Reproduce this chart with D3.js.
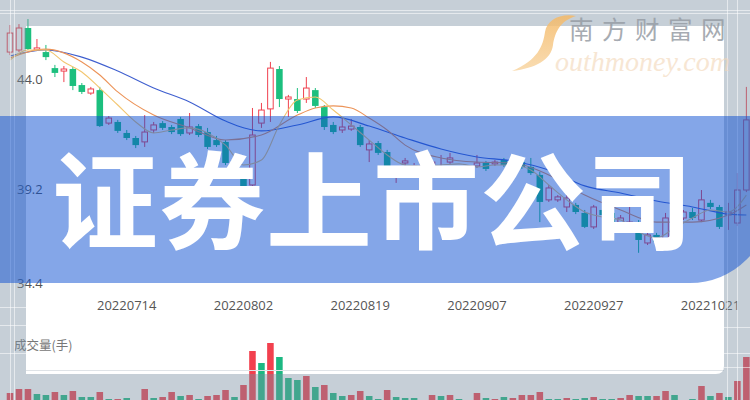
<!DOCTYPE html>
<html><head><meta charset="utf-8">
<script src="https://cdn.jsdelivr.net/npm/d3@7"></script>
<style>body{margin:0;background:#fff}svg{display:block}</style>
</head><body>
<svg id="c" width="750" height="400"></svg>
<script>
const dates = ["20220627","20220628","20220629","20220630","20220701","20220704","20220705","20220706","20220707","20220708","20220711","20220712","20220713","20220714","20220715","20220718","20220719","20220720","20220721","20220722","20220725","20220726","20220727","20220728","20220729","20220801","20220802","20220803","20220804","20220805","20220808","20220809","20220810","20220811","20220812","20220815","20220816","20220817","20220818","20220819","20220822","20220823","20220824","20220825","20220826","20220829","20220830","20220831","20220901","20220902","20220905","20220906","20220907","20220908","20220909","20220913","20220914","20220915","20220916","20220919","20220920","20220921","20220922","20220923","20220926","20220927","20220928","20220929","20220930","20221010","20221011","20221012","20221013","20221014","20221017","20221018","20221019","20221020","20221021","20221024","20221025","20221026","20221027"];
const open  = [44.87,44.96,45.92,44.96,44.87,44.17,44.04,44.13,43.43,43.08, 43.21,41.77,41.82,41.34,41.12,40.95,41.47,41.77,41.60,41.95, 41.34,41.64,41.38,41.03,40.95,40.16,39.64,39.07,41.77,42.39, 44.13,42.82,42.82,42.82,43.21,42.47,41.69,41.47,41.51,41.60, 40.60,40.90,40.51,39.51,40.03,39.86,39.90,39.99,39.77,40.07, 39.81,39.59,39.90,40.03,39.99,40.16,39.90,40.07,39.86,39.51, 38.42,38.42,38.11,38.20,37.85,37.24,37.98,37.85,37.32,37.32, 37.45,36.54,36.89,36.67,37.80,37.63,37.89,37.54,38.29,38.11, 37.76,37.41,38.85];
const high  = [46.05,46.09,46.31,45.44,45.18,44.31,44.26,44.22,43.52,43.35, 43.35,42.08,41.91,41.47,41.21,42.12,41.82,41.86,41.69,42.04, 42.21,41.73,41.56,41.21,41.03,40.38,39.81,42.43,42.65,44.44, 44.26,43.00,43.30,43.78,43.30,42.56,41.82,41.99,41.95,41.69, 41.03,40.99,40.60,39.81,40.25,40.03,40.12,40.16,40.38,40.47, 39.90,39.81,40.38,40.12,40.16,40.25,40.25,40.25,40.25,39.64, 39.07,38.63,38.76,38.29,37.98,38.20,38.07,37.94,37.76,38.42, 37.54,37.02,36.98,37.85,37.89,37.98,38.07,38.85,38.42,38.20, 38.29,39.59,43.35];
const low   = [44.74,44.87,44.96,44.92,44.52,43.78,43.56,43.21,43.04,43.00, 41.60,41.69,41.34,41.03,40.68,40.73,41.34,41.47,41.29,41.21, 41.25,41.16,40.64,40.73,39.94,39.38,38.59,38.76,41.56,41.82, 42.47,42.04,42.21,42.65,42.43,41.47,41.29,41.34,41.43,40.73, 40.07,40.38,39.42,39.16,39.90,39.72,39.81,39.90,39.64,39.99, 39.64,39.51,39.81,39.68,39.90,39.86,39.81,39.77,39.51,37.45, 38.33,38.33,37.89,37.80,37.19,37.15,37.67,37.32,37.24,37.11, 36.11,36.45,36.49,36.58,37.45,37.54,37.54,37.45,38.02,37.15, 37.11,37.28,38.76];
const close = [45.70,45.92,45.00,45.05,44.65,43.96,44.13,43.39,43.13,43.26, 41.64,41.99,41.43,41.12,40.81,41.38,41.69,41.56,41.38,41.29, 41.60,41.25,40.73,40.81,40.03,39.51,38.72,41.25,42.34,44.17, 42.82,42.91,42.30,43.30,42.52,41.60,41.38,41.60,41.64,40.81, 40.86,40.47,39.51,39.68,40.12,39.90,39.99,40.07,39.86,40.25, 39.72,39.77,40.03,39.77,40.07,39.94,40.12,39.86,39.59,38.33, 38.94,38.55,38.50,37.89,37.24,38.11,37.76,37.41,37.63,37.45, 36.67,36.89,36.58,37.63,37.54,37.89,37.63,38.42,38.11,37.24, 37.89,38.85,41.91];
const volume = [9,13,13,8,7,10,7,11,5,5, 10,3,3,4,2,13,4,5,10,6, 7,3,6,7,12,5,17,51,39,59, 45,24,22,26,15,17,9,6,7,11, 6,3,12,5,4,4,2,7,6,7, 3,2,9,4,3,5,4,7,7,10, 3,3,4,3,4,5,3,3,4,7, 6,6,6,11,7,2,3,16,6,9, 5,21,45];
const volUp = [1,1,1,0,0,1,0,1,0,0, 1,0,1,0,1,1,0,1,1,0, 1,0,1,1,1,0,1,1,0,1, 0,0,0,1,0,1,0,0,1,1, 0,0,1,0,0,0,1,1,0,1, 0,1,1,0,1,0,1,1,1,1, 0,0,1,0,0,1,0,0,1,1, 0,0,1,1,0,1,0,1,0,1, 0,1,1];
const ma5Idx = [0,2,4,6,8,10,12,14,16,18,20,22,24,26,28,30,32,34,36,38,40,42,44,46,48,50,52,54,56,58,60,62,64,66,68,70,72,74,76,78,80,82];
const ma5 = [44.52,44.96,44.96,44.44,44.00,43.30,42.56,41.82,41.34,41.47,41.56,41.34,40.81,39.94,40.16,41.69,42.78,42.91,42.34,41.69,41.03,40.38,39.94,39.90,39.94,39.99,39.86,39.94,39.94,39.72,39.07,38.42,37.89,37.67,37.54,37.02,36.76,37.19,37.63,37.98,37.89,38.63];
const ma10Idx = [0,4,8,10,12,16,20,24,28,32,34,36,38,40,42,44,48,52,56,60,64,68,72,76,80,82];
const ma10 = [44.61,45.00,44.44,43.87,43.13,42.12,41.56,41.03,41.25,42.12,42.43,42.52,42.43,41.99,41.47,40.81,40.25,40.07,40.03,39.51,38.63,37.98,37.45,37.45,37.76,38.20];
const ma20Idx = [0,4,8,12,16,20,24,28,32,36,40,44,48,52,56,60,64,68,72,76,80,82];
const ma20 = [44.70,44.96,44.65,44.04,43.30,42.69,41.86,41.43,41.69,42.04,41.64,41.12,40.64,40.29,40.12,39.72,39.03,38.72,38.37,38.11,37.80,37.76];
const yTicks = [34.4, 39.2, 44.0];
const xTicks = ["20220714","20220802","20220819","20220907","20220927","20221021"];

const svg = d3.select('#c');
const step = 8.98, x0 = 5.51;
const x = d3.scaleBand().domain(dates).range([x0, x0 + dates.length*step]).paddingInner(0.27).paddingOuter(0.135);
const bw = x.bandwidth();
const cx = i => x(dates[i]) + bw/2;
const y = d3.scaleLinear().domain([34.4, 44.0]).range([292, 72]);
const yv = d3.scaleLinear().domain([0, 59]).range([402, 343]);
const RED = '#f0414f', GREEN = '#1cbf7e';

svg.append('rect').attr('width',750).attr('height',400).attr('fill','#fff');

// candles
const cg = svg.append('g');
dates.forEach((d,i)=>{
  const up = close[i] >= open[i];
  const col = up ? RED : GREEN;
  cg.append('line').attr('x1',cx(i)).attr('x2',cx(i)).attr('y1',y(high[i])).attr('y2',y(low[i])).attr('stroke',col).attr('stroke-width',1);
  const top = y(Math.max(open[i],close[i])), bot = y(Math.min(open[i],close[i]));
  const h = Math.max(1, bot-top);
  if (up) {
    cg.append('rect').attr('x',x(d)+0.5).attr('y',top).attr('width',bw-1).attr('height',h).attr('fill','#fff').attr('stroke',col).attr('stroke-width',1);
  } else {
    cg.append('rect').attr('x',x(d)).attr('y',top).attr('width',bw).attr('height',h).attr('fill',col);
  }
});

// moving averages
const line = d3.line().x(d=>cx(d[0])).y(d=>y(d[1])).curve(d3.curveMonotoneX);
[[ma20Idx,ma20,'#3f5fcf'],[ma10Idx,ma10,'#ec9358'],[ma5Idx,ma5,'#f3c670']].forEach(([ix,vals,c])=>{
  svg.append('path').attr('d',line(ix.map((k,j)=>[k,vals[j]]))).attr('fill','none').attr('stroke',c).attr('stroke-width',1.1);
});

// volume
svg.append('g').selectAll('rect').data(volume).join('rect')
  .attr('x',(v,i)=>x(dates[i])).attr('width',bw)
  .attr('y',v=>yv(v)).attr('height',v=>yv(0)-yv(v))
  .attr('fill',(v,i)=>volUp[i]?'#f2404e':'#1cb882');

// axes
const ya = svg.append('g').attr('transform','translate(17,0)')
  .call(d3.axisRight(y).tickValues(yTicks).tickSize(0).tickPadding(0).tickFormat(d3.format('.1f')));
ya.select('.domain').remove();
ya.selectAll('text').attr('font-family','"Open Sans", "Noto Sans", sans-serif').attr('font-size',13).attr('fill','#555')
  .attr('dy',d=> d===34.4 ? '-0.35em' : '0.85em');
const xa = svg.append('g').attr('transform','translate(0,300)')
  .call(d3.axisBottom(x).tickValues(xTicks).tickSize(0).tickPadding(0));
xa.select('.domain').remove();
xa.selectAll('text').attr('font-family','"Open Sans", "Noto Sans", sans-serif').attr('font-size',13).attr('fill','#555').attr('dy','0.75em');
svg.append('text').attr('x',14).attr('y',350).attr('font-family','"Noto Sans CJK SC", sans-serif').attr('font-size',12.5).attr('fill','#777').text('成交量(手)');
svg.append('line').attr('x1',26).attr('x2',724).attr('y1',370.5).attr('y2',370.5).attr('stroke','#dfe3e7');

// grey overlay outside the panel
const panel = 'M26,26 H724 V366 Q724,374 716,374 H26 Z';
svg.append('path').attr('d','M0,0 H750 V400 H0 Z '+panel).attr('fill-rule','evenodd').attr('fill','rgba(120,140,160,0.42)');
const gl = svg.append('g').attr('stroke','#fff').attr('stroke-opacity',0.55).attr('stroke-width',1);
[10.5,13.5].forEach(v=>gl.append('line').attr('x1',0).attr('x2',750).attr('y1',v).attr('y2',v));
[10.5,14.5].forEach(v=>gl.append('line').attr('x1',v).attr('x2',v).attr('y1',0).attr('y2',400));
[727.5,737.5].forEach(v=>gl.append('line').attr('x1',v).attr('x2',v).attr('y1',0).attr('y2',400));
[307.5,325.5,353.5].forEach(v=>gl.append('line').attr('x1',0).attr('x2',26).attr('y1',v).attr('y2',v));
[327.5,353.5,367.5].forEach(v=>gl.append('line').attr('x1',724).attr('x2',750).attr('y1',v).attr('y2',v));

// banner
svg.append('path').attr('d','M-10,116 H770 V203 A80,80 0 0 1 690,283 H-10 Z').attr('fill','rgba(9,77,209,0.5)');
svg.append('text').attr('x',52).attr('y',241).attr('font-family','"Noto Sans CJK SC", sans-serif').attr('font-weight',700)
  .attr('font-size',106).attr('letter-spacing',1).attr('fill','#fff').text('证券上市公司');

// watermark
const defs = svg.append('defs');
const gr = defs.append('linearGradient').attr('id','sg').attr('x1','0').attr('y1','0').attr('x2','0').attr('y2','1');
gr.append('stop').attr('offset','0').attr('stop-color','#f4b967');
gr.append('stop').attr('offset','1').attr('stop-color','#f8d6a4');
svg.append('path').attr('d','M576,16 C560,13 547,20 545,32 C543,46 538,60 512,71 C536,68 551,60 553,45 C555,32 560,21 576,16 Z').attr('fill','url(#sg)').attr('opacity',0.85);
svg.append('text').attr('x',555).attr('y',71).attr('font-family','"Liberation Serif", serif').attr('font-style','italic')
  .attr('font-size',28).attr('fill','#f3d6b6').attr('opacity',0.6).text('outhmoney.com');
svg.append('text').attr('x',569).attr('y',39).attr('font-family','"Noto Sans CJK SC", sans-serif').attr('font-weight',400)
  .attr('font-size',24.5).attr('letter-spacing',8.5).attr('fill','#979da5').attr('opacity',0.85).text('南方财富网');
</script>
</body></html>
